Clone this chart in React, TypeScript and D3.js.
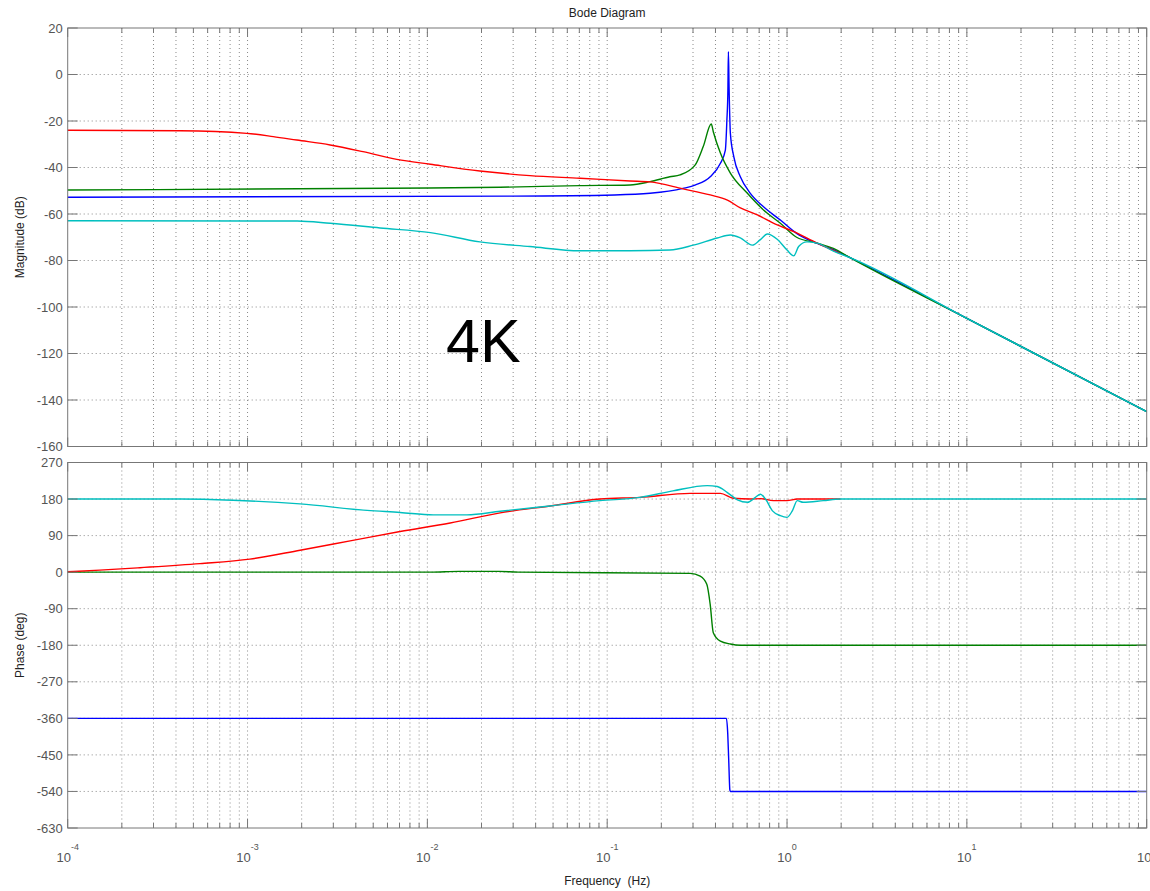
import React from "react";
import * as d3 from "d3";

// magnitude (dB) vs frequency (Hz)
const magBlue: [number, number][] = [
  [1e-4, -52.8], [0.0296, -52.3], [0.11, -51.8], [0.173, -51.1], [0.264, -49], [0.31, -47.5],
  [0.374, -44], [0.426, -38.2], [0.454, -32.5], [0.463, -19.6], [0.469, -6.7], [0.472, 9.8],
  [0.476, -5.2], [0.484, -25.2], [0.506, -35.4], [0.55, -44], [0.625, -51.1], [0.74, -56.9],
  [0.918, -62.6], [1.13, -68.3], [1.39, -71.9], [1.81, -75.3],
];
const magGreen: [number, number][] = [
  [1e-4, -49.7], [6.1e-3, -48.9], [0.0254, -48.5], [0.0706, -47.8], [0.134, -47.5], [0.173, -46.1],
  [0.223, -44], [0.254, -43.2], [0.308, -39], [0.342, -31], [0.379, -21.3], [0.389, -24.6],
  [0.426, -33.8], [0.484, -42.4], [0.6, -51], [0.74, -58.3], [0.918, -64], [1.13, -70],
  [1.47, -72.5], [1.81, -74.8],
];
const magRed: [number, number][] = [
  [1e-4, -24], [4.22e-4, -24.2], [9.9e-4, -25.3], [1.39e-3, -26.7], [1.88e-3, -28.2],
  [2.88e-3, -30.3], [4.39e-3, -33.2], [6.76e-3, -36.5], [0.0104, -38.6], [0.0196, -41.5],
  [0.0372, -43.5], [0.0706, -44.6], [0.134, -45.8], [0.173, -46.2], [0.264, -49.2],
  [0.374, -51.8], [0.466, -54], [0.55, -57.4], [0.684, -60.4], [0.839, -63.9], [1.09, -67.6],
  [1.47, -72.5], [1.98, -77],
];
const magCyan: [number, number][] = [
  [1e-4, -62.9], [1.89e-3, -63], [2.88e-3, -64], [5.46e-3, -66], [0.0104, -68], [0.0196, -72],
  [0.0372, -74], [0.0706, -75.8], [0.134, -75.8], [0.223, -75.5], [0.301, -73.4], [0.409, -70.3],
  [0.484, -69], [0.55, -70.3], [0.641, -73.4], [0.711, -71], [0.778, -68.6], [0.885, -71],
  [1.0, -75.5], [1.09, -78], [1.16, -74], [1.29, -72], [1.47, -72.5], [1.81, -76],
];
// shared high-frequency roll-off
const magTail: [number, number][] = [
  [2.24, -78.8], [10, -104.9], [100, -145],
];

// phase (deg) vs frequency (Hz)
const phBlue: [number, number][] = [
  [1e-4, -360], [0.46, -360], [0.468, -397], [0.474, -463], [0.481, -537], [0.484, -540], [100, -540],
];
const phGreen: [number, number][] = [
  [1e-4, 0], [0.0104, 0], [0.015, 2], [0.025, 2], [0.032, 0], [0.289, -3], [0.329, -10],
  [0.358, -30], [0.374, -80], [0.389, -149], [0.426, -170], [0.484, -177], [0.55, -180], [100, -180],
];
const phRed: [number, number][] = [
  [1e-4, 1], [1.51e-4, 5], [2.52e-4, 11], [5.44e-4, 21], [1.03e-3, 32], [1.96e-3, 54],
  [3.72e-3, 77], [7.05e-3, 100], [0.0134, 121], [0.0254, 146], [0.0481, 163], [0.0912, 180],
  [0.152, 184], [0.289, 194], [0.426, 194], [0.504, 182], [0.625, 180], [0.711, 181],
  [0.839, 176], [1.0, 176], [1.14, 180], [1.98, 180],
];
const phCyan: [number, number][] = [
  [1e-4, 180], [4.22e-4, 180], [8.3e-4, 177], [1.96e-3, 168], [4.62e-3, 152], [7.05e-3, 147],
  [0.0108, 141], [0.0166, 141], [0.0254, 150], [0.0481, 163], [0.0912, 176], [0.152, 184],
  [0.232, 200], [0.36, 213], [0.409, 211], [0.466, 196], [0.53, 178], [0.603, 172], [0.667, 184],
  [0.711, 192], [0.759, 180], [0.83, 151], [0.918, 139], [1.0, 135], [1.07, 151], [1.14, 176],
  [1.23, 172], [1.59, 176], [1.98, 180], [100, 180],
];

const magTicks = [20, 0, -20, -40, -60, -80, -100, -120, -140, -160];
const phTicks = [270, 180, 90, 0, -90, -180, -270, -360, -450, -540, -630];
const decades = [-4, -3, -2, -1, 0, 1, 2];

const colors = { blue: "#0000ff", green: "#008000", red: "#ff0000", cyan: "#00bfbf" };
const font = "'Liberation Sans', Arial, Helvetica, sans-serif";

const W = 1150, H = 891;
const L = 67.7, R = 1146.7;
const magTop = 28, magBot = 446.5;
const phTop = 462.5, phBot = 828;

const x = d3.scaleLog().domain([1e-4, 1e2]).range([L, R]);
const yMag = d3.scaleLinear().domain([-160, 20]).range([magBot, magTop]);
const yPh = d3.scaleLinear().domain([-630, 270]).range([phBot, phTop]);

const majors = decades.map((k) => Math.pow(10, k));
const minors: number[] = [];
decades.slice(0, -1).forEach((k) => {
  for (let m = 2; m <= 9; m++) minors.push(m * Math.pow(10, k));
});

function Panel({ y, ticks, top, bot, series }: any) {
  const line = d3.line<[number, number]>()
    .x((d) => x(d[0]))
    .y((d) => y(d[1]))
    .curve(d3.curveMonotoneX);
  const grid = "#8a8a8a";
  const axis = "#777";
  return (
    <g>
      {/* grid */}
      {[...majors, ...minors].filter((v) => v > 1e-4 && v < 1e2).map((v, i) => (
        <line key={"vg" + i} x1={x(v)} x2={x(v)} y1={top} y2={bot}
          stroke={grid} strokeWidth={1} strokeDasharray="1,3" />
      ))}
      {ticks.slice(1, -1).map((t: number) => (
        <line key={"hg" + t} x1={L} x2={R} y1={y(t)} y2={y(t)}
          stroke={grid} strokeWidth={1} strokeDasharray="1,3" />
      ))}
      {/* data */}
      {series.map((s: any, i: number) => (
        <path key={"s" + i} d={line(s.data) || ""} fill="none" stroke={s.color} strokeWidth={1.4} />
      ))}
      {/* box and ticks */}
      <rect x={L} y={top} width={R - L} height={bot - top} fill="none" stroke={axis} strokeWidth={1} />
      {majors.map((v, i) => (
        <g key={"mt" + i}>
          <line x1={x(v)} x2={x(v)} y1={bot} y2={bot - 9} stroke={axis} />
          <line x1={x(v)} x2={x(v)} y1={top} y2={top + 9} stroke={axis} />
        </g>
      ))}
      {minors.map((v, i) => (
        <g key={"nt" + i}>
          <line x1={x(v)} x2={x(v)} y1={bot} y2={bot - 5} stroke={axis} />
          <line x1={x(v)} x2={x(v)} y1={top} y2={top + 5} stroke={axis} />
        </g>
      ))}
      {ticks.map((t: number) => (
        <g key={"yt" + t}>
          <line x1={L} x2={L + 10} y1={y(t)} y2={y(t)} stroke={axis} />
          <line x1={R} x2={R - 10} y1={y(t)} y2={y(t)} stroke={axis} />
          <text x={L - 5} y={y(t)} dy="0.36em" textAnchor="end" fontSize={13} fill="#555" fontFamily={font}>
            {t}
          </text>
        </g>
      ))}
    </g>
  );
}

export default function App() {
  const magSeries = [
    { data: [...magBlue, ...magTail], color: colors.blue },
    { data: [...magGreen, ...magTail], color: colors.green },
    { data: magRed, color: colors.red },
    { data: [...magCyan, ...magTail], color: colors.cyan },
  ];
  const phSeries = [
    { data: phBlue, color: colors.blue },
    { data: phGreen, color: colors.green },
    { data: phRed, color: colors.red },
    { data: phCyan, color: colors.cyan },
  ];
  const cx = (L + R) / 2;
  return (
    <svg width={W} height={H} style={{ position: "absolute", left: 0, top: 0, background: "#fff" }}>
      <rect width={W} height={H} fill="#fff" />
      <text x={cx} y={17} textAnchor="middle" fontSize={12} fontFamily={font} fill="#222">Bode Diagram</text>
      <Panel y={yMag} ticks={magTicks} top={magTop} bot={magBot} series={magSeries} />
      <Panel y={yPh} ticks={phTicks} top={phTop} bot={phBot} series={phSeries} />
      {decades.map((k) => (
        <text key={"xl" + k} x={x(Math.pow(10, k))} y={862} textAnchor="middle" fontSize={13}
          fill="#555" fontFamily={font}>
          10<tspan dy={-12} fontSize={9}>{k}</tspan>
        </text>
      ))}
      <text x={cx} y={885} textAnchor="middle" fontSize={12} fontFamily={font} fill="#222">
        {"Frequency\u00a0 (Hz)"}
      </text>
      <text transform={`translate(24,${(magTop + magBot) / 2}) rotate(-90)`} textAnchor="middle"
        fontSize={12} fontFamily={font} fill="#222">Magnitude (dB)</text>
      <text transform={`translate(24,${(phTop + phBot) / 2}) rotate(-90)`} textAnchor="middle"
        fontSize={12} fontFamily={font} fill="#222">Phase (deg)</text>
      <text x={446} y={362} fontSize={61} fontFamily={font} fill="#000">4K</text>
    </svg>
  );
}
